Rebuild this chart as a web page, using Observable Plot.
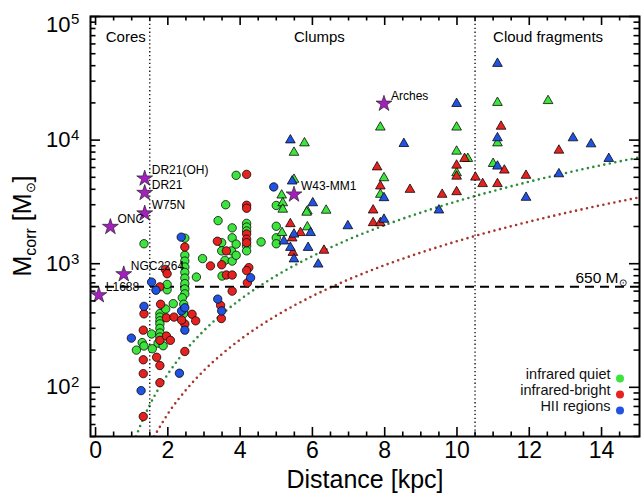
<!DOCTYPE html>
<html><head><meta charset="utf-8">
<script src="https://cdn.jsdelivr.net/npm/d3@7"></script>
<script src="https://cdn.jsdelivr.net/npm/@observablehq/plot@0.6"></script>
<style>html,body{margin:0;padding:0;background:#fff;} svg{display:block}</style>
</head><body><div id="chart"></div>
<script>
// ---------- data (distance [kpc], corrected mass [Msun]) ----------
const circlesQuiet = [
  [1.34,1450],[1.13,200],[1.29,230],[1.34,216],[1.55,270],[1.57,205],
  [1.78,395],[1.78,370],[1.78,345],[1.78,326],[1.78,300],[1.78,275],[1.78,255],[1.73,228],[1.87,217],
  [1.98,615],[1.98,680],[1.94,430],[2.15,475],
  [2.47,1610],[2.47,1170],[2.47,1050],[2.47,940],[2.47,850],[2.47,765],[2.47,690],[2.47,625],[2.47,570],[2.44,395],[2.40,530],[2.44,470],
  [2.79,780],[2.96,1100],
  [3.39,2230],[3.49,1480],[3.49,1270],[3.50,795],[3.58,1065],[3.60,3000],
  [3.78,1950],[3.78,1620],[3.76,1270],[3.78,1050],[3.89,5190],[3.89,1440],[3.89,1170],
  [4.18,2120],[4.18,1980],[4.18,1840],[4.18,1390],[4.18,1270],[4.58,1500],
  [5.00,2960],[5.00,2010],[5.00,1620],[5.00,1450]
];
const circlesBright = [
  [1.34,393],[1.32,290],[1.32,167],[1.32,129],[1.32,58],
  [1.78,650],[1.80,470],[1.78,240],[1.69,175],[1.78,150],[1.78,109],
  [1.93,900],[1.98,830],[1.96,365],[1.96,260],[2.07,240],[2.17,370],
  [2.47,1365],[2.47,325],[2.47,195],[2.38,350],[2.67,390],[2.77,345],
  [3.18,960],[3.37,1520],[3.49,980],[3.62,1270],[3.62,811],[3.46,460],[3.48,360],
  [3.78,810],[3.78,600],
  [4.18,5280],[4.18,2970],[4.18,2810],[4.18,1740],[4.18,1580],[4.18,1480],[4.24,930],[4.18,880],[4.20,700]
];
const circlesHII = [
  [0.99,250],[1.26,94],[1.34,452],[1.55,710],[1.67,610],[2.32,130],[2.38,415],[2.47,440],[2.47,290],
  [2.37,1640],[3.38,517],[3.49,415],[4.29,770],[4.93,4180]
];
const trianglesQuiet = [
  [5.78,9460],[5.49,7940],[5.49,4800],[5.15,3580],[5.18,3100],[5.18,2750],[5.86,2660],[5.84,2600],[6.38,2700],[5.86,1980],[5.16,1780],
  [7.88,12700],[7.98,4940],[7.88,3630],
  [9.99,12700],[9.99,8110],[9.99,5420],[10.30,7080],
  [11.00,6450],[11.12,20100],[11.12,9460],[12.52,20800]
];
const trianglesBright = [
  [5.39,2100],[5.67,1780],[5.44,1610],[5.46,1230],[6.32,1280],
  [7.79,6050],[7.88,4240],[7.68,2710],[7.68,2140],[7.88,2140],[8.70,3980],[9.59,3630],
  [9.99,6250],[9.99,5090],[9.99,3810],[10.21,7080],
  [10.51,5000],[10.71,4430],[11.12,4430],[11.22,12900],[11.31,5700],[11.91,5170],[12.82,8260]
];
const trianglesHII = [
  [5.39,10000],[5.44,4650],[6.01,3100],[5.49,1730],[5.95,1780],[5.21,1520],[6.98,2020],[5.39,1350],[5.49,1090],[5.88,1350],[6.16,990],
  [7.98,3410],[7.98,2280],[8.53,9350],[9.50,2710],[9.99,19700],
  [11.12,41600],[11.12,10400],[11.12,6140],[11.91,3430],[12.82,5320],[13.21,10400],[13.71,9290],[14.20,7080]
];
const starNames = ["L1688","ONC","NGC2264","W75N","DR21","DR21(OH)","W43-MM1","Arches"];
const starDist  = [0.09, 0.41, 0.78, 1.36, 1.36, 1.36, 5.49, 7.98];
const starMass  = [556, 1985, 822, 2550, 3740, 4890, 3630, 19700];

// sensitivity-limit curves
const greenLimitDist = [1.12,1.25,1.5,2,2.5,3,3.5,4,5,6,7,8,9,10,11,12,13,14,15.05];
const greenLimitMass = [40,50,72,128,200,288,392,512,800,1150,1570,2050,2590,3200,3870,4610,5410,6270,7250];
const redLimitDist = [1.62,1.8,2,2.5,3,3.5,4,5,6,7,8,9,10,11,12,13,14,15.05];
const redLimitMass = [40,49,61,95,137,186,243,380,547,745,973,1230,1520,1840,2190,2570,2980,3440];

const regionNames = ["Cores","Clumps","Cloud fragments"];
const regionBounds = [1.5, 10.5];
const massThreshold = 650;
const legendLabels = ["infrared quiet","infrared-bright","HII regions"];
const xTickValues = [0,2,4,6,8,10,12,14];
const yTickValues = [100,1000,10000,100000];
const yTickExponents = ["2","3","4","5"];
const xTitle = "Distance [kpc]";

// ---------- styling ----------
const font = "'Liberation Sans', Arial, Helvetica, sans-serif";
const colors = {quiet: "#3ee43e", bright: "#e5221f", hii: "#2153e2"};
const legendColors = [colors.quiet, colors.bright, colors.hii];
const W = 642, H = 499, mT = 16, mB = 63, mL = 90, mR = 3;
const innerH = H - mT - mB, innerW = W - mL - mR;

const rows = (arr, type) => arr.map(([d, m]) => ({d, m, type}));
const circleRows = [...rows(circlesQuiet,"quiet"), ...rows(circlesBright,"bright"), ...rows(circlesHII,"hii")];
const triRows = [...rows(trianglesQuiet,"quiet"), ...rows(trianglesBright,"bright"), ...rows(trianglesHII,"hii")];
const starRows = starNames.map((name, i) => ({name, d: starDist[i], m: starMass[i]}));
const greenRows = greenLimitDist.map((d, i) => ({d, m: greenLimitMass[i]}));
const redRows = redLimitDist.map((d, i) => ({d, m: redLimitMass[i]}));

const xMinor = d3.range(0, 14.6, 0.5).filter(v => !xTickValues.includes(v));
const yMinor = [];
for (const k of [10,100,1000,10000]) for (let m = 2; m <= 9; m++) { const v = m*k; if (v >= 40 && v < 1e5) yMinor.push(v); }

const tk = {stroke: "black", strokeWidth: 1.6};
const legendMarks = legendLabels.flatMap((lab, i) => [
  Plot.text([lab], {text: d => d, frameAnchor: "bottom-right", dx: -29, dy: -58 + 16*i, textAnchor: "end", fontSize: 14.5, fill: "#111"}),
  Plot.dot([lab], {frameAnchor: "bottom-right", dx: -19.5, dy: -58 + 16*i, r: 4, fill: legendColors[i]})
]);

const dotted = {strokeWidth: 2.6, strokeDasharray: "0,5.6", strokeLinecap: "round", curve: "monotone-x", clip: true};

const svg = Plot.plot({
  width: W, height: H, marginTop: mT, marginBottom: mB, marginLeft: mL, marginRight: mR,
  style: {fontFamily: font, background: "white", color: "black"},
  x: {domain: [-0.14, 15.05], axis: null},
  y: {type: "log", domain: [40, 1e5], axis: null},
  marks: [
    Plot.line(redRows, {x: "d", y: "m", stroke: "#a8352b", ...dotted}),
    Plot.line(greenRows, {x: "d", y: "m", stroke: "#2c8c3c", ...dotted}),
    Plot.ruleX(regionBounds, {stroke: "black", strokeWidth: 1.3, strokeDasharray: "1.3,2.6"}),
    Plot.ruleY([massThreshold], {stroke: "black", strokeWidth: 2, strokeDasharray: "9,6"}),
    Plot.dot(circleRows, {x: "d", y: "m", r: 4.2, fill: d => colors[d.type], stroke: "black", strokeWidth: 0.75}),
    Plot.dot(triRows, {x: "d", y: "m", symbol: "triangle", r: 3.6, fill: d => colors[d.type], stroke: "black", strokeWidth: 0.75}),
    Plot.dot(starRows, {x: "d", y: "m", symbol: "star", r: 5, fill: "#a51fbf", stroke: "#222", strokeWidth: 0.7}),
    Plot.text(starRows, {x: "d", y: "m", text: "name", dx: 7, dy: -8, textAnchor: "start", fontSize: 12, fill: "black"}),
    // region labels
    Plot.text([regionNames[0]], {x: () => regionBounds[0], text: d => d, frameAnchor: "top", dy: 15, dx: -4, textAnchor: "end", fontSize: 15}),
    Plot.text([regionNames[1]], {x: () => (regionBounds[0] + regionBounds[1]) / 2, text: d => d, frameAnchor: "top", dy: 15, dx: 7, textAnchor: "middle", fontSize: 15}),
    Plot.text([regionNames[2]], {x: () => regionBounds[1], text: d => d, frameAnchor: "top", dy: 15, dx: 18, textAnchor: "start", fontSize: 15}),
    // threshold label
    Plot.text([massThreshold], {y: d => d, text: d => `${d} M`, frameAnchor: "right", dx: -21, dy: -9, textAnchor: "end", fontSize: 15.5}),
    Plot.text([massThreshold], {y: d => d, text: () => "⊙", frameAnchor: "right", dx: -17, dy: -4, textAnchor: "middle", fontSize: 10}),
    ...legendMarks,
    // ticks (inward, all four sides)
    Plot.ruleX(xTickValues, {...tk, insetTop: innerH - 9}),
    Plot.ruleX(xTickValues, {...tk, insetBottom: innerH - 9}),
    Plot.ruleX(xMinor, {...tk, insetTop: innerH - 4.5}),
    Plot.ruleX(xMinor, {...tk, insetBottom: innerH - 4.5}),
    Plot.ruleY(yTickValues, {...tk, insetRight: innerW - 10}),
    Plot.ruleY(yTickValues, {...tk, insetLeft: innerW - 10}),
    Plot.ruleY(yMinor, {...tk, insetRight: innerW - 5.5}),
    Plot.ruleY(yMinor, {...tk, insetLeft: innerW - 5.5}),
    // tick labels
    Plot.text(xTickValues, {x: d => d, text: d => String(d), frameAnchor: "bottom", dy: 21, fontSize: 23}),
    Plot.text(yTickValues.slice(0, 3), {y: d => d, text: () => "10", frameAnchor: "left", dx: -20, textAnchor: "end", fontSize: 22}),
    Plot.text(yTickValues.slice(0, 3), {y: d => d, text: (d, i) => yTickExponents[i], frameAnchor: "left", dx: -19.5, dy: -5, textAnchor: "start", fontSize: 15}),
    Plot.text(yTickValues.slice(3), {y: d => d, text: () => "10", frameAnchor: "left", dx: -20, dy: 8, textAnchor: "end", fontSize: 22}),
    Plot.text(yTickValues.slice(3), {y: d => d, text: () => yTickExponents[3], frameAnchor: "left", dx: -19.5, dy: 3, textAnchor: "start", fontSize: 15}),
    Plot.text([xTitle], {text: d => d, frameAnchor: "bottom", dy: 51, fontSize: 25}),
    Plot.frame({stroke: "black", strokeWidth: 2})
  ]
});

// y-axis title with subscripts
const t = d3.select(svg).append("text")
  .attr("transform", "translate(31,226) rotate(-90)")
  .attr("text-anchor", "middle").attr("font-size", 25).attr("font-family", font).attr("fill", "black");
t.append("tspan").text("M");
t.append("tspan").attr("font-size", 16).attr("dy", 5).text("corr");
t.append("tspan").attr("dy", -5).text(" [M");
t.append("tspan").attr("font-size", 13).attr("dy", 4).text("⊙");
t.append("tspan").attr("dy", -4).text("]");

document.getElementById("chart").appendChild(svg);
</script>
</body></html>
